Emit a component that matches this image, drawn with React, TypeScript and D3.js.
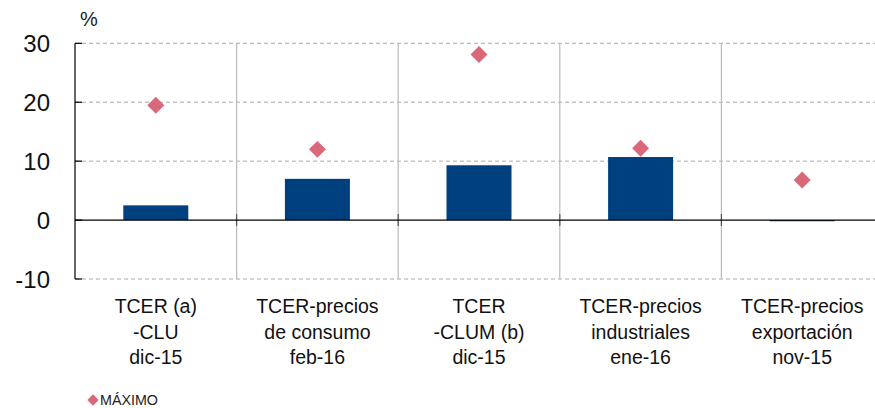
import React from "react";
import * as d3 from "d3";

const categories = [
  ["TCER (a)", "-CLU", "dic-15"],
  ["TCER-precios", "de consumo", "feb-16"],
  ["TCER", "-CLUM (b)", "dic-15"],
  ["TCER-precios", "industriales", "ene-16"],
  ["TCER-precios", "exportación", "nov-15"],
];
const barValues = [2.5, 7.0, 9.3, 10.7, -0.2];
const maxValues = [19.5, 12.0, 28.1, 12.2, 6.8];
const yTicks = [-10, 0, 10, 20, 30];

const W = 875;
const H = 408;
const left = 75;
const bandW = 161.6;

export default function App() {
  const keys = categories.map((_, i) => String(i));
  const x = d3.scaleBand().domain(keys).range([left, left + bandW * 5]).paddingInner(0).paddingOuter(0);
  const y = d3.scaleLinear().domain([-10, 30]).range([279, 43.3]);
  const barW = 65;
  const font = "'Liberation Sans', Arial, Helvetica, sans-serif";
  const diamond = 12;
  return (
    <svg width={W} height={H} style={{ position: "absolute", left: 0, top: 0 }} fontFamily={font}>
      {/* gridlines */}
      {yTicks.filter((t) => t !== 0).map((t) => (
        <line key={t} x1={left} x2={W} y1={y(t)} y2={y(t)} stroke="#aaa" strokeDasharray="4,3" strokeWidth={1} />
      ))}
      {/* category separators */}
      {keys.slice(1).map((k) => (
        <line key={k} x1={x(k)!} x2={x(k)!} y1={y(30)} y2={y(-10)} stroke="#bbb" strokeWidth={1.2} />
      ))}
      {keys.slice(1).map((k) => (
        <line key={"t" + k} x1={x(k)!} x2={x(k)!} y1={y(0) - 6} y2={y(0) + 6} stroke="#555" strokeWidth={1.2} />
      ))}
      {/* bars */}
      {barValues.map((v, i) => {
        const cx = x(keys[i])! + x.bandwidth() / 2;
        return (
          <rect key={i} x={cx - barW / 2} width={barW} y={Math.min(y(v), y(0))} height={Math.max(Math.abs(y(v) - y(0)), 1)} fill="#00407f" />
        );
      })}
      {/* zero line */}
      <line x1={left} x2={W} y1={y(0)} y2={y(0)} stroke="#000" strokeWidth={1.2} />
      {/* y axis */}
      <line x1={left} x2={left} y1={y(30)} y2={y(-10)} stroke="#000" strokeWidth={1.2} />
      {yTicks.map((t) => (
        <g key={t}>
          <line x1={left} x2={left + 7} y1={y(t)} y2={y(t)} stroke="#000" strokeWidth={1.2} />
          <text x={50} y={y(t)} dy="0.36em" textAnchor="end" fontSize={24} fill="#111">{t}</text>
        </g>
      ))}
      <text x={80} y={26} fontSize={20} fill="#222">%</text>
      {/* diamonds */}
      {maxValues.map((v, i) => {
        const cx = x(keys[i])! + x.bandwidth() / 2;
        return (
          <rect key={i} x={-diamond / 2} y={-diamond / 2} width={diamond} height={diamond} fill="#d9697a"
            transform={`translate(${cx},${y(v)}) rotate(45)`} />
        );
      })}
      {/* category labels */}
      {categories.map((lines, i) => {
        const cx = x(keys[i])! + x.bandwidth() / 2;
        return (
          <text key={i} textAnchor="middle" fontSize={19.5} fill="#111">
            {lines.map((l, j) => (
              <tspan key={j} x={cx} y={313 + j * 25.5}>{l}</tspan>
            ))}
          </text>
        );
      })}
      {/* legend */}
      <rect x={-4} y={-4} width={8} height={8} fill="#d9697a" transform="translate(93,400) rotate(45)" />
      <text x={100} y={405} fontSize={14} fill="#222" textLength={58} lengthAdjust="spacingAndGlyphs">MÁXIMO</text>
    </svg>
  );
}
